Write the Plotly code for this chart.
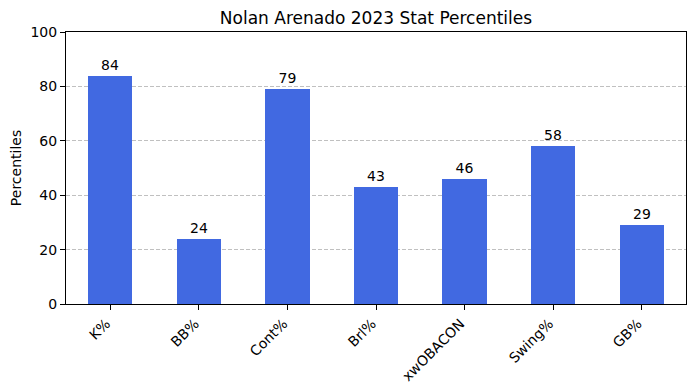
import plotly.graph_objects as go

categories = ["K%", "BB%", "Cont%", "Brl%", "xwOBACON", "Swing%", "GB%"]
percentiles = [84, 24, 79, 43, 46, 58, 29]
y_ticks = [0, 20, 40, 60, 80, 100]

fig = go.Figure()
fig.add_trace(go.Bar(
    x=list(range(len(categories))),
    y=percentiles,
    width=0.5,
    marker=dict(color="#4169E1", line=dict(width=0)),
    text=[str(v) for v in percentiles],
    textposition="outside",
    textfont=dict(family="DejaVu Sans", size=14, color="black"),
    cliponaxis=False,
))

fig.update_layout(
    width=695, height=390,
    margin=dict(l=66, r=9, t=32, b=86, autoexpand=False),
    paper_bgcolor="white", plot_bgcolor="white",
    font=dict(family="DejaVu Sans", size=14, color="black"),
    title=dict(text="Nolan Arenado 2023 Stat Percentiles", x=0.5, xanchor="center",
               xref="paper", y=1 - 18/390, yanchor="middle", font=dict(size=17)),
    showlegend=False,
    bargap=0,
)
fig.update_xaxes(
    range=[-0.5, 6.5], automargin=False,
    tickmode="array", tickvals=list(range(len(categories))), ticktext=categories,
    tickangle=-45, ticks="outside", ticklen=5, tickcolor="black",
    tickfont=dict(size=14), ticklabelshift=-4,
    showline=True, linecolor="black", linewidth=1, mirror=True,
    showgrid=False, zeroline=False,
)
fig.update_yaxes(
    range=[0, 100], automargin=False,
    tickmode="array", tickvals=y_ticks,
    ticks="outside", ticklen=5, tickcolor="black",
    tickfont=dict(size=14),
    showline=True, linecolor="black", linewidth=1, mirror=True,
    showgrid=True, gridcolor="rgba(176,176,176,0.8)", griddash="4px,2px", gridwidth=1,
    zeroline=False,
    title=dict(text="Percentiles", standoff=5, font=dict(size=14)),
)

fig.write_html("out.html", config={"displayModeBar": False})
with open("out.html", "r", encoding="utf-8") as f:
    html = f.read()
html = html.replace("<head>", "<head><style>html,body{margin:0;padding:0;}</style>", 1)
with open("out.html", "w", encoding="utf-8") as f:
    f.write(html)
